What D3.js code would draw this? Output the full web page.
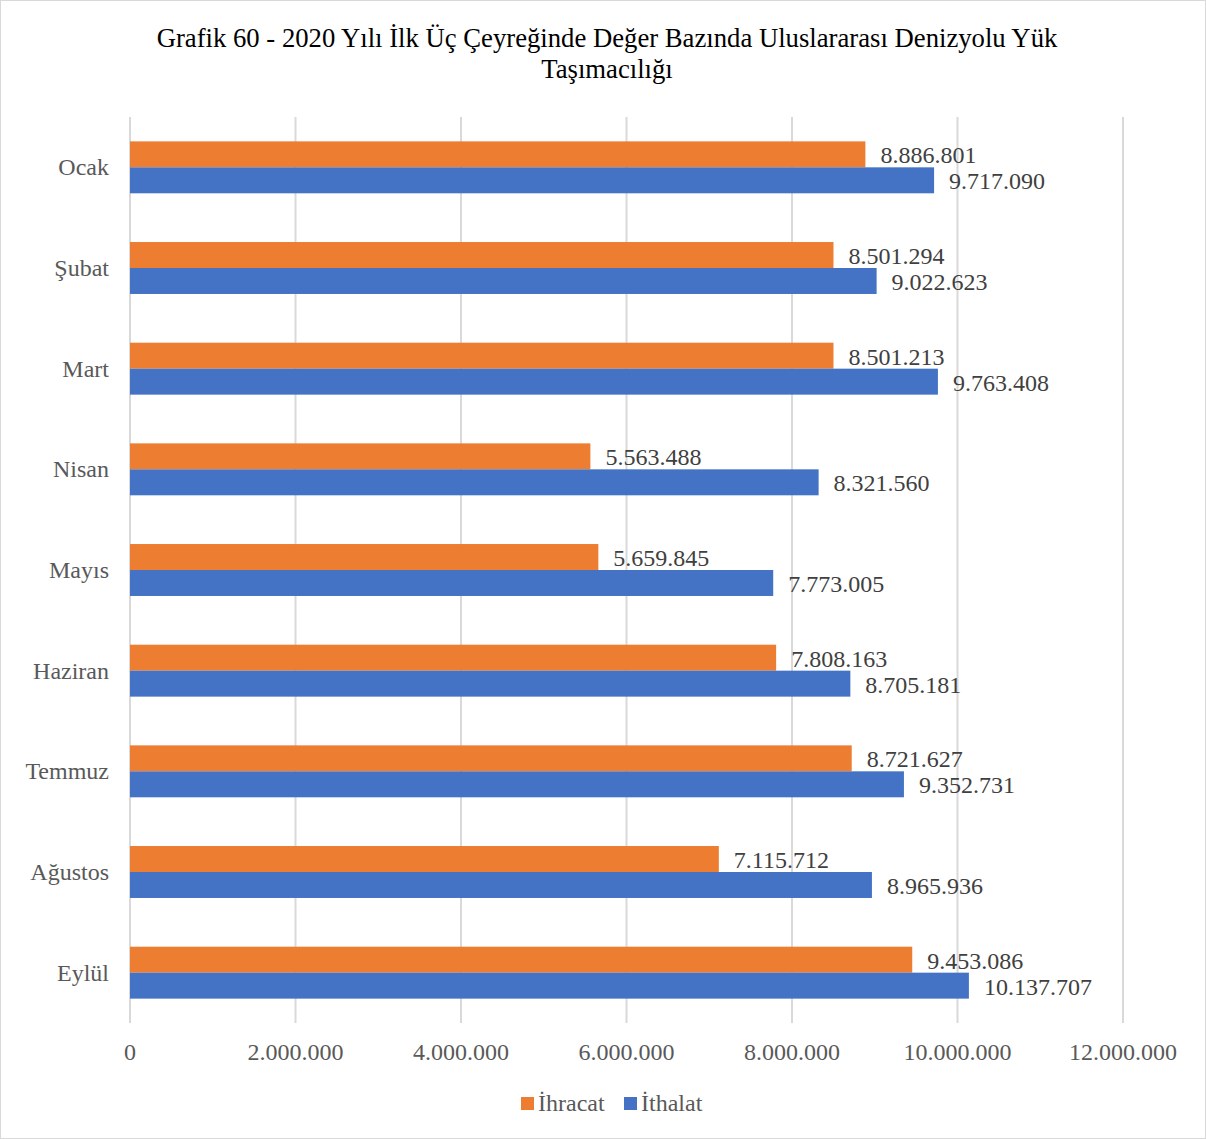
<!DOCTYPE html>
<html><head><meta charset="utf-8">
<script src="https://cdn.jsdelivr.net/npm/d3@7"></script>
<style>body{margin:0;background:#fff}svg{display:block}</style>
</head><body>
<script>
const categories = ["Ocak","Şubat","Mart","Nisan","Mayıs","Haziran","Temmuz","Ağustos","Eylül"];
const ihracat = [8886801,8501294,8501213,5563488,5659845,7808163,8721627,7115712,9453086];
const ithalat = [9717090,9022623,9763408,8321560,7773005,8705181,9352731,8965936,10137707];
const seriesNames = ["İhracat","İthalat"];
const colors = ["#ED7D31","#4472C4"];
const xTicks = [0,2000000,4000000,6000000,8000000,10000000,12000000];
const title = ["Grafik 60 - 2020 Yılı İlk Üç Çeyreğinde Değer Bazında Uluslararası Denizyolu Yük","Taşımacılığı"];

(function(){
const W=1206,H=1139;
const fmt = v => d3.format(",")(v).replace(/,/g,".");
const svg = d3.select("body").append("svg").attr("width",W).attr("height",H)
  .style("font-family","'Liberation Serif','Times New Roman',serif");
svg.append("rect").attr("x",0.5).attr("y",0.5).attr("width",W-1).attr("height",H-1)
  .attr("fill","#fff").attr("stroke","#d9d9d9");

const pL=130,pR=1123,pT=117,pB=1023;
const x = d3.scaleLinear().domain([0,12000000]).range([pL,pR]);
const y = d3.scaleBand().domain(categories).range([pT,pB]).paddingInner(0.484).paddingOuter(0.242);
const sub = d3.scaleBand().domain(seriesNames).range([0,y.bandwidth()]);

svg.append("g").selectAll("line").data(xTicks).join("line")
  .attr("x1",d=>x(d)).attr("x2",d=>x(d)).attr("y1",pT).attr("y2",pB)
  .attr("stroke","#d9d9d9").attr("stroke-width",2);

const tw = svg.append("text").attr("text-anchor","middle").attr("fill","#000")
  .style("font-size","26.7px");
title.forEach((t,i)=>tw.append("tspan").attr("x",607).attr("y",47+i*31).text(t));

const data = categories.map((c,i)=>({c,vals:[ihracat[i],ithalat[i]]}));
const g = svg.append("g").selectAll("g").data(data).join("g").attr("transform",d=>`translate(0,${y(d.c)})`);
g.selectAll("rect").data(d=>d.vals.map((v,j)=>({v,s:seriesNames[j],j}))).join("rect")
  .attr("x",x(0)).attr("y",d=>sub(d.s)).attr("height",sub.bandwidth())
  .attr("width",d=>x(d.v)-x(0)).attr("fill",d=>colors[d.j]);
g.selectAll("text.v").data(d=>d.vals.map((v,j)=>({v,s:seriesNames[j],j}))).join("text")
  .attr("class","v").attr("x",d=>x(d.v)+15).attr("y",d=>sub(d.s)+sub.bandwidth()/2+9)
  .attr("fill","#404040").style("font-size","24px").text(d=>fmt(d.v));

svg.append("g").selectAll("text").data(categories).join("text")
  .attr("x",109).attr("y",d=>y(d)+y.bandwidth()/2+8).attr("text-anchor","end")
  .attr("fill","#595959").style("font-size","24px").text(d=>d);

svg.append("g").selectAll("text").data(xTicks).join("text")
  .attr("x",d=>x(d)).attr("y",1060).attr("text-anchor","middle")
  .attr("fill","#595959").style("font-size","24px").text(d=>fmt(d));

const lg = svg.append("g");
const lx=[521,624];
seriesNames.forEach((s,i)=>{
  lg.append("rect").attr("x",lx[i]).attr("y",1097).attr("width",13).attr("height",13).attr("fill",colors[i]);
  lg.append("text").attr("x",lx[i]+17).attr("y",1111).attr("fill","#595959").style("font-size","24px").text(s);
});
})();
</script>
</body></html>
